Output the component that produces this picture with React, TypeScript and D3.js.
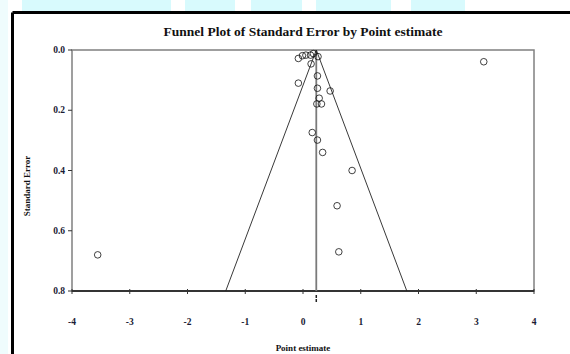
import React from "react";
import * as d3 from "d3";

const pointEstimates = [3.13, -0.08, -0.01, 0.05, 0.13, 0.18, 0.26, 0.14, -0.08, 0.25, 0.25, 0.47, 0.28, 0.24, 0.32, 0.16, 0.25, 0.34, 0.85, 0.59, 0.62, -3.555];
const standardErrors = [0.039, 0.028, 0.019, 0.017, 0.017, 0.012, 0.022, 0.046, 0.11, 0.086, 0.127, 0.136, 0.16, 0.179, 0.179, 0.274, 0.299, 0.34, 0.4, 0.517, 0.67, 0.68];
const xTicks = [-4, -3, -2, -1, 0, 1, 2, 3, 4];
const yTicks = [0, 0.2, 0.4, 0.6, 0.8];
const meanEstimate = 0.23;
const zCrit = 1.96;
const title = "Funnel Plot of Standard Error by Point estimate";
const xLabel = "Point estimate";
const yLabel = "Standard Error";
const cyanBlocks = [[22, 171], [185, 235], [251, 302], [316, 391], [411, 465]];

export default function App() {
  const W = 570, H = 354;
  const x = d3.scaleLinear().domain([-4, 4]).range([72, 534]);
  const y = d3.scaleLinear().domain([0, 0.8]).range([50, 291]);
  const font = "'Liberation Serif', 'Times New Roman', serif";
  const seMax = 0.8;
  const funnel = d3.line<[number, number]>().x(d => x(d[0])).y(d => y(d[1]));
  const funnelPts: [number, number][] = [
    [meanEstimate - zCrit * seMax, seMax],
    [meanEstimate, 0],
    [meanEstimate + zCrit * seMax, seMax],
  ];
  return (
    <svg width={W} height={H} style={{ position: "absolute", left: 0, top: 0, display: "block" }}>
      <rect x={0} y={0} width={W} height={H} fill="#ffffff" />
      <rect x={0} y={0} width={8} height={H} fill="#effcfd" />
      {cyanBlocks.map((b, i) => (
        <rect key={i} x={b[0]} y={0} width={b[1] - b[0]} height={12} fill="#d8fafd" />
      ))}
      <line x1={12.5} y1={12.5} x2={W + 5} y2={12.5} stroke="#000" strokeWidth={3} />
      <line x1={12.5} y1={12.5} x2={12.5} y2={H + 5} stroke="#000" strokeWidth={3} />
      <text x={303} y={36} textAnchor="middle" fontFamily={font} fontWeight="bold" fontSize={13.5} fill="#111">{title}</text>
      <rect x={x(-4)} y={y(0)} width={x(4) - x(-4)} height={y(0.8) - y(0)} fill="none" stroke="#808080" strokeWidth={1.5} />
      <line x1={x(-4)} x2={x(4)} y1={y(0.8)} y2={y(0.8)} stroke="#111" strokeWidth={1.5} />
      {yTicks.map(t => (
        <g key={t}>
          <line x1={x(-4) - 4} x2={x(-4)} y1={y(t)} y2={y(t)} stroke="#333" strokeWidth={1} />
          <text x={65} y={y(t) + 3} textAnchor="end" fontFamily={font} fontWeight="bold" fontSize={9.5} fill="#1a1a33">{t.toFixed(1)}</text>
        </g>
      ))}
      {xTicks.map(t => (
        <g key={t}>
          <line x1={x(t)} x2={x(t)} y1={y(0.8) - 2} y2={y(0.8) + 3} stroke="#333" strokeWidth={1} />
          <text x={x(t)} y={325} textAnchor="middle" fontFamily={font} fontWeight="bold" fontSize={9.5} fill="#1a1a33">{t}</text>
        </g>
      ))}
      <line x1={x(meanEstimate)} x2={x(meanEstimate)} y1={y(0)} y2={y(0.8)} stroke="#7a7a7a" strokeWidth={1.8} />
      <line x1={x(meanEstimate)} x2={x(meanEstimate)} y1={295} y2={303} stroke="#222" strokeWidth={1.5} strokeDasharray="3,1" />
      <path d={funnel(funnelPts) || ""} fill="none" stroke="#222" strokeWidth={0.9} />
      {pointEstimates.map((v, i) => (
        <circle key={i} cx={x(v)} cy={y(standardErrors[i])} r={3.3} fill="none" stroke="#111" strokeWidth={0.8} />
      ))}
      <text x={303} y={351} textAnchor="middle" fontFamily={font} fontWeight="bold" fontSize={9} fill="#111">{xLabel}</text>
      <text transform={`translate(30,186) rotate(-90)`} textAnchor="middle" fontFamily={font} fontWeight="bold" fontSize={9} fill="#111">{yLabel}</text>
    </svg>
  );
}
